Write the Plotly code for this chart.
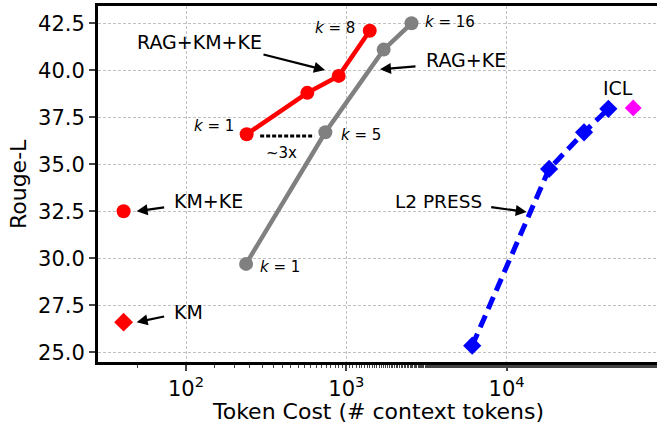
import plotly.graph_objects as go
import numpy as np

# Data
rag_km_ke_x = [239, 571, 896, 1400]
rag_km_ke_y = [36.6, 38.8, 39.7, 42.1]
rag_ke_x = [237, 740, 1710, 2550]
rag_ke_y = [29.7, 36.7, 41.1, 42.5]
l2_x = [6100, 18400, 30400, 43100]
l2_y = [25.35, 34.75, 36.7, 37.95]
icl_x = [61600]
icl_y = [38.0]
km_ke_x = [40.8]
km_ke_y = [32.5]
km_x = [40.8]
km_y = [26.6]
gap_x = [290, 631]
gap_y = [36.5, 36.5]
x_tick_vals = [100, 1000, 10000]
x_tick_text = ["10<sup>2</sup>", "10<sup>3</sup>", "10<sup>4</sup>"]

FONT = "DejaVu Sans"
fig = go.Figure()

fig.add_trace(go.Scatter(x=gap_x, y=gap_y, mode="lines",
                         line=dict(color="black", width=3, dash="4px,2px")))
fig.add_trace(go.Scatter(x=rag_ke_x, y=rag_ke_y, mode="lines+markers",
                         line=dict(color="gray", width=4.5),
                         marker=dict(color="gray", size=14)))
fig.add_trace(go.Scatter(x=rag_km_ke_x, y=rag_km_ke_y, mode="lines+markers",
                         line=dict(color="red", width=4.5),
                         marker=dict(color="red", size=14)))
fig.add_trace(go.Scatter(x=l2_x, y=l2_y, mode="lines+markers",
                         line=dict(color="blue", width=5, dash="13px,7px"),
                         marker=dict(color="blue", size=14, symbol="diamond")))
fig.add_trace(go.Scatter(x=icl_x, y=icl_y, mode="markers",
                         marker=dict(color="magenta", size=13, symbol="diamond")))
fig.add_trace(go.Scatter(x=km_ke_x, y=km_ke_y, mode="markers",
                         marker=dict(color="red", size=14)))
fig.add_trace(go.Scatter(x=km_x, y=km_y, mode="markers",
                         marker=dict(color="red", size=14.5, symbol="diamond")))

L = np.log10
ann = []
def txt(x, y, s, xa="center", size=19):
    ann.append(dict(x=L(x), y=y, text=s, showarrow=False, xanchor=xa, yanchor="middle",
                    font=dict(family=FONT, size=size, color="black")))
def arr(x, y, ax, ay):
    ann.append(dict(x=L(x), y=y, text="", showarrow=True, ax=ax, ay=ay,
                    arrowhead=2, arrowsize=1.0, arrowwidth=2.2, arrowcolor="black",
                    standoff=0, startstandoff=0))

txt(122, 41.52, "RAG+KM+KE")
txt(3055, 40.54, "RAG+KE", "left")
txt(81.5, 33.04, "KM+KE", "left")
txt(81.5, 27.13, "KM", "left")
txt(7230, 33.04, "L2 PRESS", "right", 18.5)
txt(49700, 39.04, "ICL")
txt(1161, 42.27, "<i>k</i> = 8", "right", 15)
txt(204, 37.03, "<i>k</i> = 1", "right", 15)
txt(904, 36.55, "<i>k</i> = 5", "left", 15)
txt(3020, 42.57, "<i>k</i> = 16", "left", 15)
txt(281, 29.56, "<i>k</i> = 1", "left", 15)
txt(395, 35.59, "~3x", "center", 15)

arr(736, 40.01, -63, -16)
arr(1622, 40.05, 37, -3)
arr(49.2, 32.5, 29, -4)
arr(49.2, 26.6, 29, -6)
arr(13340, 32.46, -37, -5)

# axis titles
ann.append(dict(xref="paper", yref="paper", x=0.5, y=-0.097, yanchor="top", xanchor="center",
                text="Token Cost (# context tokens)", showarrow=False,
                font=dict(family=FONT, size=22, color="black")))
ann.append(dict(xref="paper", yref="paper", x=-0.143, y=0.5, xanchor="center", yanchor="middle",
                text="Rouge-L", showarrow=False, textangle=-90,
                font=dict(family=FONT, size=22, color="black")))

fig.update_layout(
    width=657, height=423,
    margin=dict(l=98, r=0, t=6, b=61),
    paper_bgcolor="white", plot_bgcolor="white",
    showlegend=False,
    font=dict(family=FONT, color="black"),
    annotations=ann,
)
fig.update_xaxes(
    type="log", range=[1.451, 4.938], automargin=False,
    tickvals=x_tick_vals, ticktext=x_tick_text,
    tickfont=dict(size=21, family=FONT), ticks="outside", ticklen=6, tickwidth=1.5,
    minor=dict(ticks="outside", ticklen=3, tickwidth=1, showgrid=False),
    showline=True, linecolor="black", linewidth=3, mirror=True,
    showgrid=True, gridcolor="#c0c0c0", gridwidth=1, griddash="3px,2px",
    zeroline=False,
)
fig.update_yaxes(
    range=[24.48, 43.42], tick0=25, dtick=2.5, tickformat=".1f", automargin=False,
    tickfont=dict(size=21, family=FONT), ticks="outside", ticklen=6, tickwidth=1.5,
    showline=True, linecolor="black", linewidth=3, mirror=True,
    showgrid=True, gridcolor="#c0c0c0", gridwidth=1, griddash="3px,2px",
    zeroline=False,
)
fig.write_html("out.html", config={"displayModeBar": False},
               post_script="document.body.style.margin='0';document.body.style.overflow='hidden';")
